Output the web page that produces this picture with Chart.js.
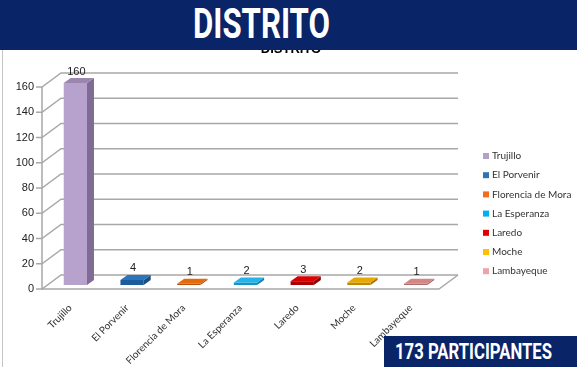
<!DOCTYPE html>
<html>
<head>
<meta charset="utf-8">
<script src="https://cdn.jsdelivr.net/npm/chart.js@4.4.0/dist/chart.umd.min.js"></script>
<style>
html, body { margin: 0; padding: 0; background: #fff; }
#wrap { position: relative; width: 577px; height: 367px; overflow: hidden; }
#myChart { position: absolute; left: 0; top: 0; }
#frame { position: absolute; left: 2px; top: 50px; width: 1px; height: 317px; background: #c4c4c4; }
#header { position: absolute; left: 0; top: 0; width: 577px; height: 50px; background: #0a2468; }
#total { position: absolute; left: 384px; top: 336px; width: 193px; height: 31px; background: #0a2468; }
.big { position: absolute; color: #fff; font-family: Roboto, "Liberation Sans", sans-serif; font-weight: bold;
       white-space: nowrap; transform-origin: 0 0; }
#headerText { left: 193px; top: 2.6px; font-size: 42px; line-height: 42px; }
#totalText { left: 11px; top: 4px; font-size: 22.5px; line-height: 22.5px; }
</style>
</head>
<body>
<div id="wrap">
  <canvas id="myChart" width="577" height="367"></canvas>
  <div id="frame"></div>
  <div id="header"><span id="headerText" class="big">DISTRITO</span></div>
  <div id="total"><span id="totalText" class="big">173 PARTICIPANTES</span></div>
</div>
<script>
// data
const categories = ['Trujillo', 'El Porvenir', 'Florencia de Mora', 'La Esperanza', 'Laredo', 'Moche', 'Lambayeque'];
const participantes = [160, 4, 1, 2, 3, 2, 1];
const yMax = 160;
const yStep = 20;

// colours of the 3d faces and of the legend keys
const frontColors = ['#b7a1cd', '#1d5c9a', '#b85208', '#1494c4', '#a80000', '#c08a00', '#b06b6b'];
const topColors   = ['#9a86ae', '#2a76bd', '#e46a10', '#22b4ea', '#d80000', '#e8a800', '#d28686'];
const sideColors  = ['#7f6b94', '#184f85', '#9c4507', '#117fa8', '#8c0000', '#a37500', '#955a5a'];
const legendColors = ['#b3a2c7', '#2e75b6', '#f36c21', '#00b0f0', '#e20000', '#ffc000', '#f0a3a3'];

const WALL_DX = 19, WALL_DY = -14;   // depth of the back wall
const BAR_X = 5, BAR_Y = -4;         // bars stand half way into the floor
const DEPTH_X = 7, DEPTH_Y = -5;     // thickness of a bar

const depth3d = {
    id: 'depth3d',
    beforeDraw(chart) {
        const ctx = chart.ctx;
        const {left, right, top, bottom} = chart.chartArea;
        const y = chart.scales.y;
        ctx.save();
        // chart title, mostly under the blue header
        ctx.fillStyle = '#000';
        ctx.font = 'bold 13px "Liberation Sans"';
        ctx.textAlign = 'center';
        ctx.textBaseline = 'alphabetic';
        ctx.fillText('DISTRITO', 291, 53);

        ctx.strokeStyle = '#a8a8a8';
        ctx.lineWidth = 1.5;
        y.ticks.forEach(t => {
            const py = y.getPixelForValue(t.value);
            ctx.beginPath();
            ctx.moveTo(left - 6, py);
            ctx.lineTo(left, py);
            ctx.lineTo(left + WALL_DX, py + WALL_DY);
            ctx.lineTo(right + WALL_DX, py + WALL_DY);
            ctx.stroke();
        });
        ctx.beginPath();
        ctx.moveTo(left, top);
        ctx.lineTo(left, bottom);
        ctx.lineTo(right, bottom);
        ctx.lineTo(right + WALL_DX, bottom + WALL_DY);
        ctx.stroke();
        ctx.restore();
    },
    beforeDatasetsDraw(chart) {
        chart.ctx.save();
        chart.ctx.translate(BAR_X, BAR_Y);
    },
    afterDatasetsDraw(chart) {
        const ctx = chart.ctx;
        chart.getDatasetMeta(0).data.forEach((bar, i) => {
            const {x, y, base, width} = bar.getProps(['x', 'y', 'base', 'width'], true);
            const l = x - width / 2, r = x + width / 2;
            ctx.fillStyle = sideColors[i];
            ctx.beginPath();
            ctx.moveTo(r, y); ctx.lineTo(r + DEPTH_X, y + DEPTH_Y);
            ctx.lineTo(r + DEPTH_X, base + DEPTH_Y); ctx.lineTo(r, base);
            ctx.closePath(); ctx.fill();
            ctx.fillStyle = topColors[i];
            ctx.beginPath();
            ctx.moveTo(l, y); ctx.lineTo(r, y);
            ctx.lineTo(r + DEPTH_X, y + DEPTH_Y); ctx.lineTo(l + DEPTH_X, y + DEPTH_Y);
            ctx.closePath(); ctx.fill();

            ctx.fillStyle = '#222';
            ctx.font = '11px "Liberation Sans"';
            ctx.textAlign = 'center';
            ctx.textBaseline = 'bottom';
            ctx.fillText(String(participantes[i]), x + 1, y + DEPTH_Y - 1);
        });
        ctx.restore();
    },
    afterDraw(chart) {
        // legend, one key per district
        const ctx = chart.ctx;
        ctx.save();
        ctx.font = '10px Lato';
        ctx.textBaseline = 'middle';
        ctx.textAlign = 'left';
        categories.forEach((name, i) => {
            const cy = 156 + i * 19.2;
            ctx.fillStyle = legendColors[i];
            ctx.fillRect(483, cy - 3, 6, 6);
            ctx.fillStyle = '#333';
            ctx.fillText(name, 492, cy);
        });
        ctx.restore();
    }
};

new Chart(document.getElementById('myChart').getContext('2d'), {
    type: 'bar',
    data: {
        labels: categories,
        datasets: [{
            label: 'DISTRITO',
            data: participantes,
            backgroundColor: frontColors,
            borderWidth: 0,
            barPercentage: 0.41,
            categoryPercentage: 1,
            clip: false
        }]
    },
    options: {
        responsive: false,
        animation: false,
        layout: { padding: { top: 87, right: 138, left: 0, bottom: 0 } },
        plugins: {
            legend: { display: false },
            title: { display: false },
            tooltip: { enabled: false }
        },
        scales: {
            x: {
                grid: { display: false, drawTicks: false },
                border: { display: false },
                ticks: {
                    autoSkip: false,
                    minRotation: 45,
                    maxRotation: 45,
                    padding: 13,
                    color: '#333',
                    font: { family: 'Lato', size: 10 }
                },
                afterFit: s => { s.height = 78; }
            },
            y: {
                min: 0,
                max: yMax,
                grid: { display: false, drawTicks: false },
                border: { display: false },
                ticks: {
                    stepSize: yStep,
                    padding: 8,
                    color: '#222',
                    font: { family: 'Liberation Sans', size: 11 }
                },
                afterFit: s => { s.width = 42; }
            }
        }
    },
    plugins: [depth3d]
});

// squeeze the banner texts to the condensed width of the original
function fitWidth(id, target) {
    const el = document.getElementById(id);
    const w = el.getBoundingClientRect().width;
    el.style.transform = 'scaleX(' + (target / w) + ')';
}
fitWidth('headerText', 137);
fitWidth('totalText', 157);
</script>
</body>
</html>
